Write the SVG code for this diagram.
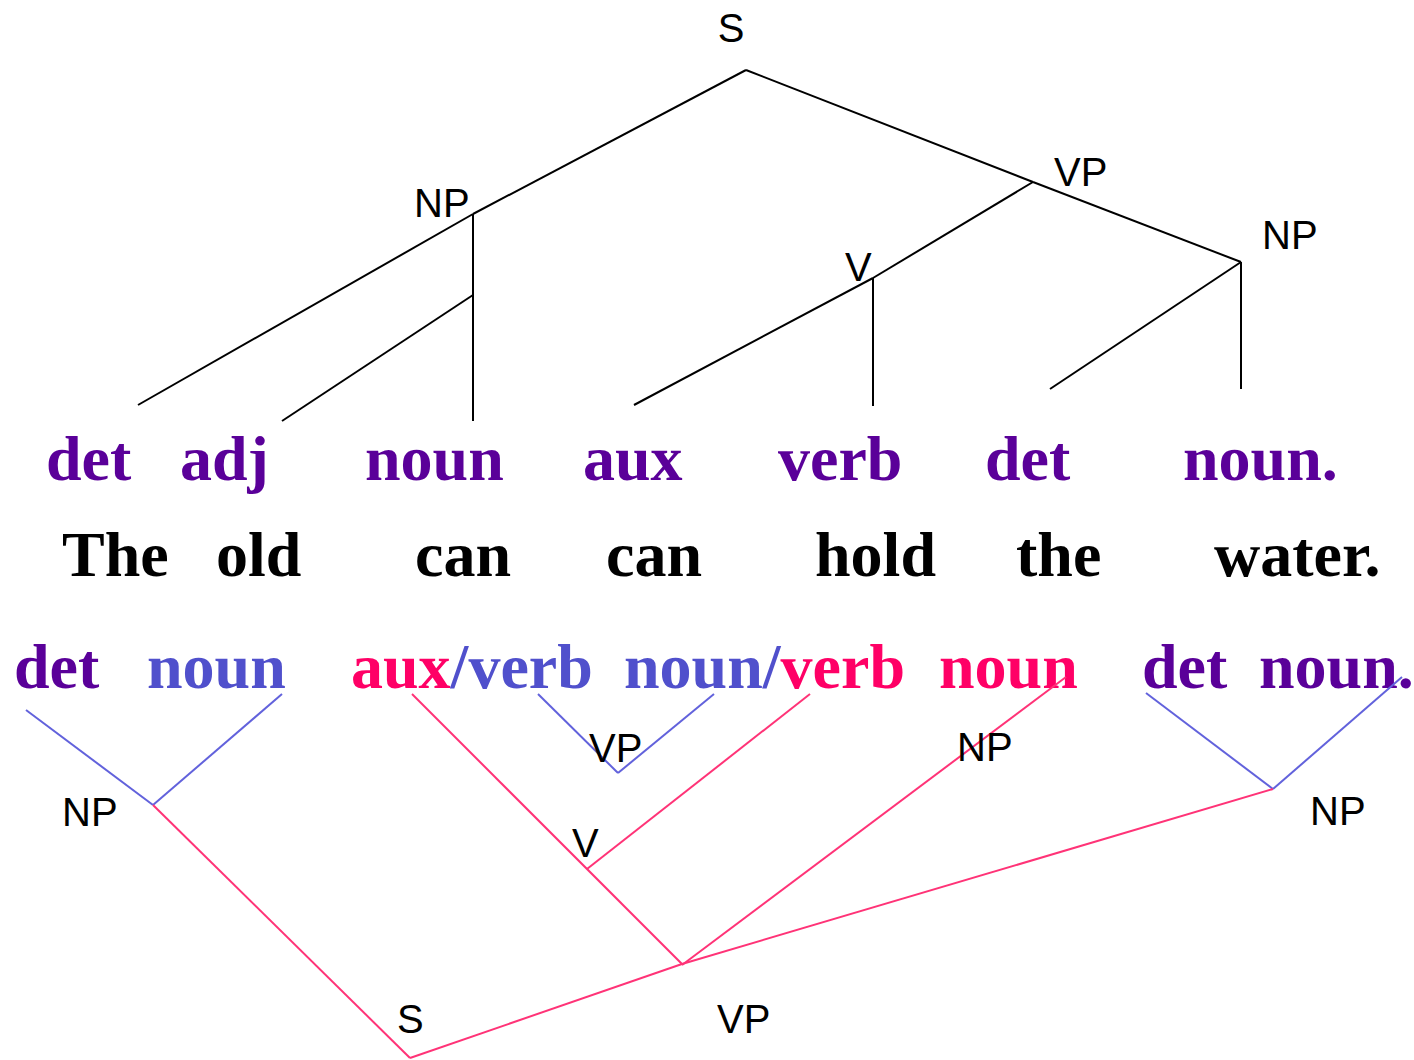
<svg xmlns="http://www.w3.org/2000/svg" width="1414" height="1060" viewBox="0 0 1414 1060">
  <style>
    .lbl { font-family: "Liberation Sans", Arial, sans-serif; font-size: 40px; fill: #000; }
    .w { font-family: "Liberation Serif", "Times New Roman", serif; font-size: 64px; font-weight: bold; }
    .pur { fill: #5a0099; }
    .blu { fill: #5050cc; }
    .pnk { fill: #ff0066; }
    .blk { fill: #000; }
    .top line { stroke: #000; stroke-width: 2; stroke-linecap: butt; }
    .b { stroke: #6262dc; stroke-width: 2; }
    .p { stroke: #ff3377; stroke-width: 2; }
  </style>
  <rect width="1414" height="1060" fill="#fff"/>

  <!-- upper parse tree: branches -->
  <g id="connectors-top" class="top">
    <line x1="746" y1="70" x2="473" y2="214"/>
    <line x1="473" y1="214" x2="138" y2="405"/>
    <line x1="746" y1="70" x2="1033" y2="182"/>
    <line x1="1033" y1="182" x2="1241" y2="262"/>
    <line x1="473" y1="214" x2="473" y2="421"/>
    <line x1="473" y1="295" x2="282" y2="421"/>
    <line x1="1033" y1="182" x2="873" y2="278"/>
    <line x1="873" y1="278" x2="634" y2="405"/>
    <line x1="873" y1="278" x2="873" y2="406"/>
    <line x1="1241" y1="262" x2="1050" y2="389"/>
    <line x1="1241" y1="262" x2="1241" y2="389"/>
  </g>

  <!-- upper parse tree: node labels -->
  <g id="top-S"><text class="lbl" x="731" y="42" text-anchor="middle">S</text></g>
  <g id="top-NP"><text class="lbl" x="414" y="217">NP</text></g>
  <g id="top-VP"><text class="lbl" x="1054" y="186">VP</text></g>
  <g id="top-V"><text class="lbl" x="845" y="281">V</text></g>
  <g id="top-NP2"><text class="lbl" x="1262" y="249">NP</text></g>

  <!-- part-of-speech tags -->
  <g id="tags-top" class="w pur">
    <text x="46" y="480">det</text>
    <text x="180" y="480">adj</text>
    <text x="365" y="480">noun</text>
    <text x="583" y="480">aux</text>
    <text x="778" y="480">verb</text>
    <text x="985" y="480">det</text>
    <text x="1183" y="480">noun.</text>
  </g>

  <!-- the sentence -->
  <g id="sentence" class="w blk">
    <text x="62" y="576">The</text>
    <text x="216" y="576">old</text>
    <text x="415" y="576">can</text>
    <text x="606" y="576">can</text>
    <text x="815" y="576">hold</text>
    <text x="1016" y="576">the</text>
    <text x="1214" y="576">water.</text>
  </g>

  <!-- alternative tags -->
  <g id="tags-bottom" class="w">
    <text x="14" y="688" class="pur">det</text>
    <text x="147" y="688" class="blu">noun</text>
    <text x="351" y="688"><tspan class="pnk">aux</tspan><tspan class="blu">/verb</tspan></text>
    <text x="624" y="688"><tspan class="blu">noun/</tspan><tspan class="pnk">verb</tspan></text>
    <text x="939" y="688" class="pnk">noun</text>
    <text x="1142" y="688" class="pur">det</text>
    <text x="1259" y="688" class="pur">noun.</text>
  </g>

  <!-- lower parse tree: branches -->
  <g id="connectors-bottom" fill="none">
    <line class="b" x1="26" y1="710" x2="153" y2="805"/>
    <line class="b" x1="282" y1="694" x2="153" y2="805"/>
    <line class="b" x1="538" y1="694" x2="618" y2="773"/>
    <line class="b" x1="714" y1="694" x2="618" y2="773"/>
    <line class="b" x1="1146" y1="693" x2="1273" y2="789"/>
    <line class="b" x1="1402" y1="677" x2="1273" y2="789"/>
    <line class="p" x1="153" y1="805" x2="410" y2="1058"/>
    <line class="p" x1="410" y1="1058" x2="682" y2="964"/>
    <line class="p" x1="412" y1="694" x2="682" y2="964"/>
    <line class="p" x1="810" y1="694" x2="587" y2="869"/>
    <line class="p" x1="1066" y1="677" x2="682" y2="965"/>
    <line class="p" x1="1273" y1="789" x2="682" y2="964"/>
  </g>

  <!-- lower parse tree: node labels -->
  <g id="bot-NP-left"><text class="lbl" x="62" y="826">NP</text></g>
  <g id="bot-VP-small"><text class="lbl" x="589" y="762">VP</text></g>
  <g id="bot-V"><text class="lbl" x="572" y="857">V</text></g>
  <g id="bot-NP-mid"><text class="lbl" x="957" y="761">NP</text></g>
  <g id="bot-NP-right"><text class="lbl" x="1310" y="825">NP</text></g>
  <g id="bot-S"><text class="lbl" x="397" y="1033">S</text></g>
  <g id="bot-VP"><text class="lbl" x="717" y="1033">VP</text></g>
</svg>
